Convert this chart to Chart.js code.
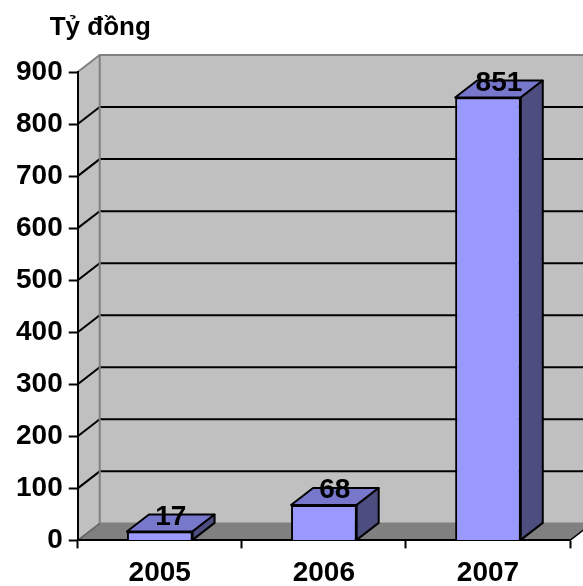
<!DOCTYPE html>
<html>
<head>
<meta charset="utf-8">
<script src="https://cdn.jsdelivr.net/npm/chart.js@4"></script>
<style>
  body { margin: 0; background: #fff; }
  #wrap { width: 583px; height: 586px; }
</style>
</head>
<body>
<div id="wrap"><canvas id="myChart"></canvas></div>
<script>
    // data
    const categories = ['2005', '2006', '2007'];
    const values = [17, 68, 851];
    const yMin = 0, yMax = 900, yStep = 100;
    const unitLabel = 'Tỷ đồng';

    const DX = 22, DY = 17; // 3d depth
    const FONT = "'Liberation Sans', Arial, sans-serif";

    function poly(ctx, pts, fill, stroke, lw) {
        ctx.beginPath();
        ctx.moveTo(pts[0][0], pts[0][1]);
        for (let i = 1; i < pts.length; i++) ctx.lineTo(pts[i][0], pts[i][1]);
        ctx.closePath();
        if (fill) { ctx.fillStyle = fill; ctx.fill(); }
        if (stroke) { ctx.strokeStyle = stroke; ctx.lineWidth = lw || 2; ctx.stroke(); }
    }

    function line(ctx, pts, color, lw) {
        ctx.beginPath();
        ctx.moveTo(pts[0][0], pts[0][1]);
        for (let i = 1; i < pts.length; i++) ctx.lineTo(pts[i][0], pts[i][1]);
        ctx.strokeStyle = color;
        ctx.lineWidth = lw;
        ctx.stroke();
    }

    /* walls, floor, back grid */
    const wallPlugin = {
        id: 'walls',
        beforeDraw(chart) {
            const ctx = chart.ctx, a = chart.chartArea, y = chart.scales.y;
            const L = a.left, R = a.right;
            const T = y.getPixelForValue(yMax), B = y.getPixelForValue(yMin);
            ctx.save();
            // back wall + left wall
            poly(ctx, [[L + DX, T - DY], [R + DX, T - DY], [R + DX, B - DY], [L + DX, B - DY]], '#c0c0c0');
            poly(ctx, [[L, B], [L, T], [L + DX, T - DY], [L + DX, B - DY]], '#c0c0c0');
            // floor
            poly(ctx, [[L, B], [R, B], [R + DX, B - DY], [L + DX, B - DY]], '#808080');

            y.ticks.forEach(t => {
                if (t.value === yMin || t.value === yMax) return;
                const py = y.getPixelForValue(t.value);
                line(ctx, [[L, py], [L + DX, py - DY], [R + DX, py - DY]], '#000', 2);
            });
            // edges
            line(ctx, [[L, T], [L + DX, T - DY], [R + DX, T - DY]], '#808080', 2);
            line(ctx, [[L + DX, T - DY], [L + DX, B - DY], [R + DX, B - DY]], '#808080', 2);
            line(ctx, [[L, B], [L + DX, B - DY]], '#606060', 1.5);
            line(ctx, [[R, B], [R + DX, B - DY]], '#000', 1.5);

            // unit title
            ctx.fillStyle = '#000';
            ctx.font = 'bold 26px ' + FONT;
            ctx.textAlign = 'left';
            ctx.textBaseline = 'alphabetic';
            ctx.fillText(unitLabel, L - 28, T - 37);
            ctx.restore();
        }
    };

    /* bar top/side faces + value labels */
    const barPlugin = {
        id: 'bars3d',
        afterDatasetsDraw(chart) {
            const ctx = chart.ctx;
            const meta = chart.getDatasetMeta(0);
            ctx.save();
            ctx.lineJoin = 'round';
            meta.data.forEach((bar, i) => {
                const p = bar.getProps(['x', 'y', 'width', 'base'], true);
                const l = p.x - p.width / 2, r = p.x + p.width / 2;
                poly(ctx, [[l, p.y], [r, p.y], [r + DX, p.y - DY], [l + DX, p.y - DY]], '#7777cc', '#000', 2);
                poly(ctx, [[r, p.y], [r + DX, p.y - DY], [r + DX, p.base - DY], [r, p.base]], '#4d4d80', '#000', 2);
            });
            meta.data.forEach((bar, i) => {
                const p = bar.getProps(['x', 'y'], true);
                ctx.fillStyle = '#000';
                ctx.font = 'bold 28px ' + FONT;
                ctx.textAlign = 'center';
                ctx.textBaseline = 'alphabetic';
                ctx.fillText(String(values[i]), p.x + DX / 2, p.y - 7);
            });
            ctx.restore();
        }
    };

    var ctx = document.getElementById('myChart').getContext('2d');
    var myChart = new Chart(ctx, {
        type: 'bar',
        data: {
            labels: categories,
            datasets: [{
                data: values,
                backgroundColor: '#9999ff',
                borderColor: '#000',
                borderWidth: 2,
                categoryPercentage: 1,
                barPercentage: 0.4
            }]
        },
        options: {
            responsive: true,
            maintainAspectRatio: false,
            animation: false,
            layout: { padding: { left: 10, top: 72, right: 13, bottom: -12 } },
            plugins: {
                legend: { display: false },
                tooltip: { enabled: false }
            },
            scales: {
                x: {
                    grid: { offset: true, drawOnChartArea: false, tickLength: 8, tickWidth: 2, tickColor: '#000' },
                    border: { display: true, color: '#000', width: 2 },
                    ticks: { color: '#000', padding: 8, font: { family: FONT, size: 28, weight: 'bold' } }
                },
                y: {
                    min: yMin,
                    max: yMax,
                    grid: { drawOnChartArea: false, tickLength: 9, tickWidth: 2, tickColor: '#000' },
                    border: { display: true, color: '#000', width: 2 },
                    ticks: { stepSize: yStep, color: '#000', padding: 6, font: { family: FONT, size: 28, weight: 'bold' } }
                }
            }
        },
        plugins: [wallPlugin, barPlugin]
    });
</script>
</body>
</html>
